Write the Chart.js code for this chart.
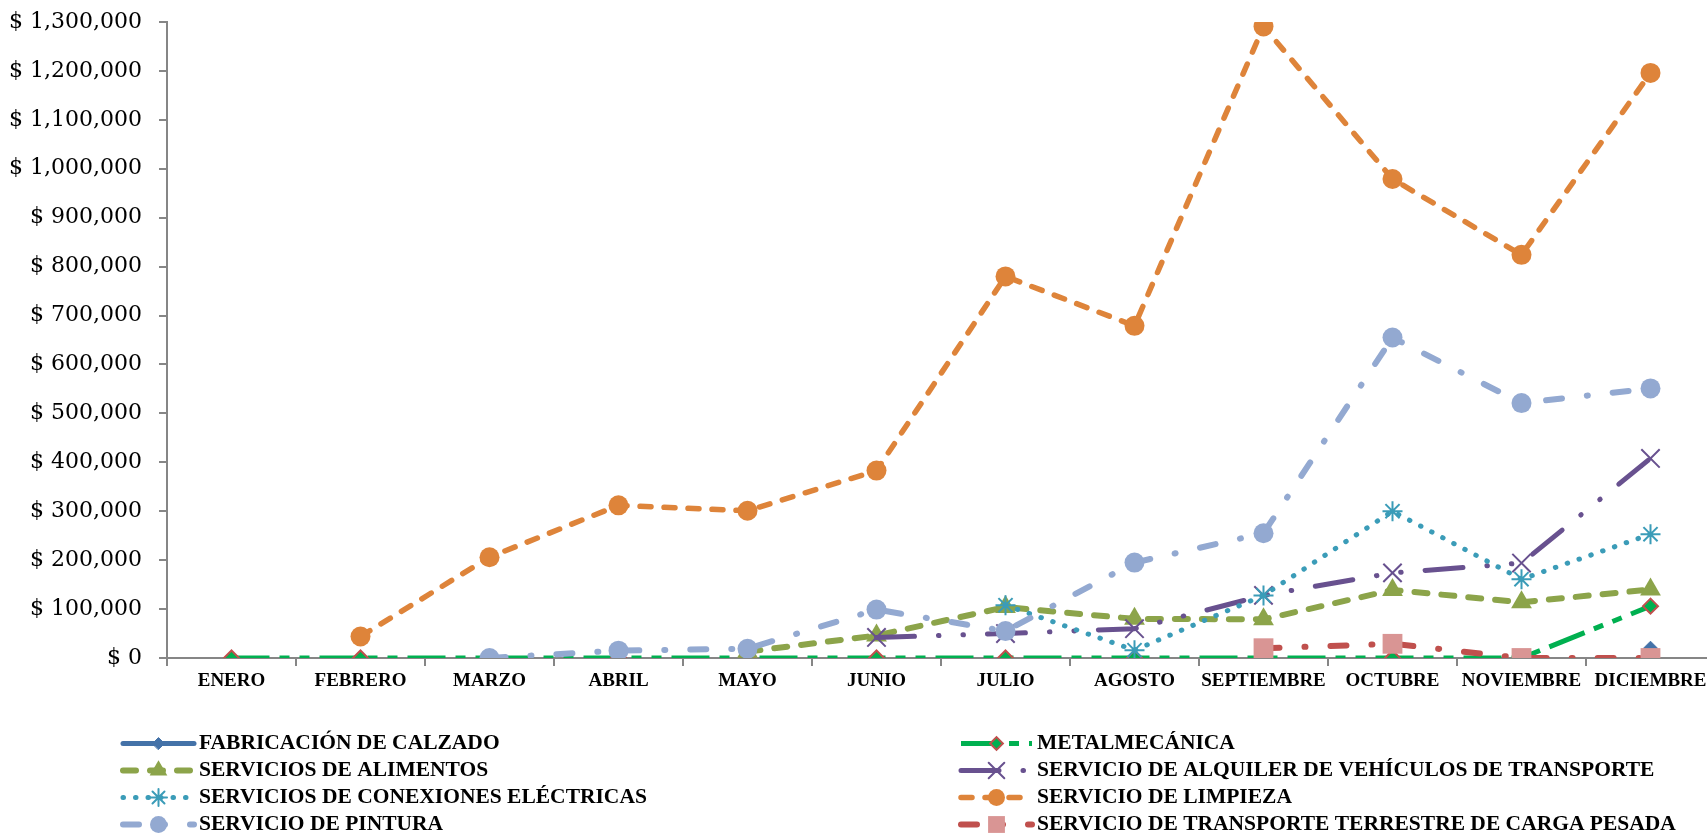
<!DOCTYPE html>
<html>
<head>
<meta charset="utf-8">
<script src="https://cdn.jsdelivr.net/npm/chart.js@4.4.0/dist/chart.umd.min.js"></script>
<style>
  html, body { margin: 0; padding: 0; overflow: hidden; background: #fff; }
  canvas { display: block; }
</style>
</head>
<body>
<canvas id="ventasChart" width="1730" height="837"></canvas>
<script>
const meses = ['ENERO', 'FEBRERO', 'MARZO', 'ABRIL', 'MAYO', 'JUNIO', 'JULIO', 'AGOSTO', 'SEPTIEMBRE', 'OCTUBRE', 'NOVIEMBRE', 'DICIEMBRE'];

const fabricacionCalzado = [null, null, null, null, null, null, null, null, null, null, null, 20000];
const metalmecanica = [0, 0, 0, 0, 0, 0, 0, 0, 0, 0, 0, 106000];
const serviciosAlimentos = [null, null, null, null, 13000, 46000, 104000, 80000, 79000, 139000, 114000, 140000];
const alquilerVehiculos = [null, null, null, null, null, 42000, 50000, 60000, 128000, 174000, 194000, 408000];
const conexionesElectricas = [null, null, null, null, null, null, 108000, 16000, 128000, 300000, 161000, 253000];
const servicioLimpieza = [null, 44000, 206000, 312000, 301000, 383000, 780000, 679000, 1291000, 979000, 824000, 1196000];
const servicioPintura = [null, null, 0, 15000, 19000, 99000, 55000, 195000, 255000, 655000, 521000, 551000];
const transporteCarga = [null, null, null, null, null, null, null, null, 20000, 29000, 0, 0];

const yMax = 1300000;
const yStep = 100000;

function serie(label, data, color, extra) {
  return Object.assign({
    label: label,
    data: data,
    borderColor: color,
    backgroundColor: color,
    pointBackgroundColor: color,
    pointBorderColor: color,
    pointBorderWidth: 0,
    borderWidth: 5,
    borderDash: [],
    borderCapStyle: 'round',
    borderJoinStyle: 'round',
    fill: false,
    tension: 0,
    spanGaps: false
  }, extra);
}

const datasets = [
  serie('FABRICACIÓN DE CALZADO', fabricacionCalzado, '#4472A8', {
    pointStyle: 'rectRot', pointRadius: 7, pointBorderWidth: 1
  }),
  serie('METALMECÁNICA', metalmecanica, '#00B050', {
    borderDash: [38, 10, 10, 10, 10, 10], borderCapStyle: 'butt',
    pointStyle: 'rectRot', pointRadius: 7.5, pointBorderColor: '#C0504D', pointBorderWidth: 2
  }),
  serie('SERVICIOS DE ALIMENTOS', serviciosAlimentos, '#8CA44A', {
    borderWidth: 6, borderDash: [13, 14],
    pointStyle: 'triangle', pointRadius: 12
  }),
  serie('SERVICIO DE ALQUILER DE VEHÍCULOS DE TRANSPORTE', alquilerVehiculos, '#68518F', {
    borderDash: [38, 24, 0.5, 24, 0.5, 24],
    pointStyle: 'crossRot', pointRadius: 13, pointBorderWidth: 2
  }),
  serie('SERVICIOS DE CONEXIONES ELÉCTRICAS', conexionesElectricas, '#3B9CB8', {
    borderDash: [0.5, 12],
    pointStyle: 'star', pointRadius: 10, pointBorderWidth: 2
  }),
  serie('SERVICIO DE LIMPIEZA', servicioLimpieza, '#DE843A', {
    borderWidth: 5.5, borderDash: [11, 13],
    pointStyle: 'circle', pointRadius: 10
  }),
  serie('SERVICIO DE PINTURA', servicioPintura, '#93A9D1', {
    borderWidth: 6, borderDash: [16, 25, 1, 25],
    pointStyle: 'circle', pointRadius: 10
  }),
  serie('SERVICIO DE TRANSPORTE TERRESTRE DE CARGA PESADA', transporteCarga, '#C0504D', {
    borderWidth: 6, borderDash: [16, 25, 1, 25],
    pointStyle: 'rect', pointRadius: 14, pointBackgroundColor: '#D99594', pointBorderColor: '#D99594'
  })
];
// later series on top, like the spreadsheet
datasets.forEach((ds, i) => { ds.order = datasets.length - i; });

// two-column legend under the axis
const leyenda = { lineX: [123, 961], textX: [199, 1037], y0: 743.5, rowGap: 27, lineLen: 71 };
const leyendaPlugin = {
  id: 'leyenda',
  afterDraw(chart) {
    const ctx = chart.ctx;
    chart.data.datasets.forEach((ds, i) => {
      const col = i % 2;
      const row = Math.floor(i / 2);
      const x0 = leyenda.lineX[col];
      const y = leyenda.y0 + row * leyenda.rowGap;
      ctx.save();
      ctx.strokeStyle = ds.borderColor;
      ctx.lineWidth = ds.borderWidth;
      ctx.lineCap = ds.borderCapStyle;
      ctx.setLineDash(ds.borderDash);
      ctx.beginPath();
      ctx.moveTo(x0, y);
      ctx.lineTo(x0 + leyenda.lineLen, y);
      ctx.stroke();
      ctx.setLineDash([]);
      ctx.fillStyle = ds.pointBackgroundColor;
      ctx.strokeStyle = ds.pointBorderColor;
      ctx.lineWidth = ds.pointBorderWidth;
      Chart.helpers.drawPoint(ctx, {
        pointStyle: ds.pointStyle, radius: ds.pointRadius * 0.85, rotation: 0, borderWidth: ds.pointBorderWidth
      }, x0 + leyenda.lineLen / 2, y);
      ctx.fillStyle = '#000';
      ctx.font = 'bold 21.5px "Liberation Serif"';
      ctx.textBaseline = 'middle';
      ctx.textAlign = 'left';
      ctx.fillText(ds.label, leyenda.textX[col], y);
      ctx.restore();
    });
  }
};

const ctx = document.getElementById('ventasChart').getContext('2d');
const ventasChart = new Chart(ctx, {
  type: 'line',
  data: {
    labels: meses,
    datasets: datasets
  },
  options: {
    responsive: false,
    animation: false,
    devicePixelRatio: 1,
    events: [],
    layout: {
      padding: { top: 22, right: 13, bottom: 119, left: 0 }
    },
    plugins: {
      legend: { display: false },
      tooltip: { enabled: false }
    },
    scales: {
      x: {
        offset: true,
        grid: { offset: true, drawOnChartArea: false, tickLength: 8, color: '#868686', lineWidth: 2 },
        border: { color: '#868686', width: 2 },
        ticks: {
          color: '#000',
          padding: 4,
          maxRotation: 0,
          autoSkip: false,
          font: { family: 'Liberation Serif', size: 19, weight: 'bold' }
        },
        afterFit(scale) { scale.height = 60; }
      },
      y: {
        min: 0,
        max: yMax,
        grid: { drawOnChartArea: false, tickLength: 8, color: '#868686', lineWidth: 2 },
        border: { color: '#868686', width: 2 },
        ticks: {
          stepSize: yStep,
          color: '#000',
          padding: 17,
          font: { family: 'DejaVu Serif', size: 22 },
          callback: value => '$ ' + value.toLocaleString('en-US')
        },
        afterFit(scale) {
          scale.width = 167;
          scale.paddingTop = 0;
          scale.paddingBottom = 0;
        }
      }
    }
  },
  plugins: [leyendaPlugin]
});
</script>
</body>
</html>
